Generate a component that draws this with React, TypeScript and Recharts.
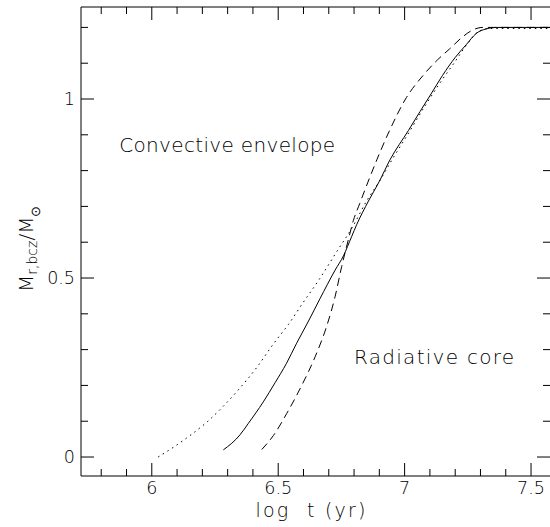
import { LineChart, Line, XAxis, YAxis, ReferenceDot, ReferenceLine } from "recharts";

// evolution of the mass coordinate at the base of the convective zone
const solidTrack = [
  { t: 6.283, m: 0.02 },
  { t: 6.349, m: 0.062 },
  { t: 6.382, m: 0.094 },
  { t: 6.441, m: 0.154 },
  { t: 6.488, m: 0.208 },
  { t: 6.533, m: 0.262 },
  { t: 6.573, m: 0.318 },
  { t: 6.62, m: 0.38 },
  { t: 6.665, m: 0.442 },
  { t: 6.725, m: 0.522 },
  { t: 6.758, m: 0.562 },
  { t: 6.79, m: 0.615 },
  { t: 6.811, m: 0.65 },
  { t: 6.857, m: 0.715 },
  { t: 6.9, m: 0.77 },
  { t: 6.942, m: 0.83 },
  { t: 7.015, m: 0.912 },
  { t: 7.061, m: 0.965 },
  { t: 7.107, m: 1.017 },
  { t: 7.15, m: 1.066 },
  { t: 7.2, m: 1.116 },
  { t: 7.244, m: 1.152 },
  { t: 7.283, m: 1.183 },
  { t: 7.323, m: 1.196 },
  { t: 7.36, m: 1.2 },
  { t: 7.575, m: 1.2 },
];

const dashedTrack = [
  { t: 6.435, m: 0.021 },
  { t: 6.481, m: 0.06 },
  { t: 6.534, m: 0.122 },
  { t: 6.593, m: 0.2 },
  { t: 6.646, m: 0.28 },
  { t: 6.692, m: 0.366 },
  { t: 6.725, m: 0.448 },
  { t: 6.751, m: 0.532 },
  { t: 6.777, m: 0.606 },
  { t: 6.797, m: 0.66 },
  { t: 6.823, m: 0.709 },
  { t: 6.89, m: 0.83 },
  { t: 6.941, m: 0.913 },
  { t: 7.007, m: 1.004 },
  { t: 7.072, m: 1.065 },
  { t: 7.131, m: 1.11 },
  { t: 7.178, m: 1.14 },
  { t: 7.23, m: 1.174 },
  { t: 7.27, m: 1.193 },
  { t: 7.31, m: 1.2 },
  { t: 7.575, m: 1.2 },
];

const dottedTrack = [
  { t: 6.025, m: 0.0 },
  { t: 6.085, m: 0.027 },
  { t: 6.151, m: 0.06 },
  { t: 6.217, m: 0.097 },
  { t: 6.283, m: 0.142 },
  { t: 6.349, m: 0.193 },
  { t: 6.415, m: 0.25 },
  { t: 6.48, m: 0.315 },
  { t: 6.54, m: 0.37 },
  { t: 6.6, m: 0.433 },
  { t: 6.664, m: 0.498 },
  { t: 6.73, m: 0.572 },
  { t: 6.796, m: 0.645 },
  { t: 6.847, m: 0.712 },
  { t: 6.9, m: 0.77 },
  { t: 6.95, m: 0.83 },
  { t: 7.02, m: 0.91 },
  { t: 7.08, m: 0.98 },
  { t: 7.14, m: 1.045 },
  { t: 7.2, m: 1.105 },
  { t: 7.244, m: 1.15 },
  { t: 7.296, m: 1.19 },
  { t: 7.34, m: 1.197 },
  { t: 7.575, m: 1.197 },
];

const xDomain = [5.72, 7.575];
const yDomain = [-0.053, 1.257];
const xTicks = [5.8, 5.9, 6, 6.1, 6.2, 6.3, 6.4, 6.5, 6.6, 6.7, 6.8, 6.9, 7, 7.1, 7.2, 7.3, 7.4, 7.5];
const yTicks = [0, 0.1, 0.2, 0.3, 0.4, 0.5, 0.6, 0.7, 0.8, 0.9, 1, 1.1, 1.2];

const regionLabels = [
  { t: 5.871, m: 0.852, text: "Convective envelope", len: 216 },
  { t: 6.8, m: 0.259, text: "Radiative core", len: 160 },
];

const FONT = "'DejaVu Sans', sans-serif";
const INK = "#000";
const PLOT_W = 469;
const PLOT_H = 469;
const MAJOR = 13;
const MINOR = 7;

const isMajor = (v: number) => Math.abs(v * 2 - Math.round(v * 2)) < 1e-6;

// ticks point inward and are repeated on the opposite edge of the frame
function XTick({ x, y, payload }: any) {
  const major = isMajor(payload.value);
  const len = major ? MAJOR : MINOR;
  return (
    <g>
      <line x1={x} y1={y} x2={x} y2={y - len} stroke="#000" />
      <line x1={x} y1={y - PLOT_H} x2={x} y2={y - PLOT_H + len} stroke="#000" />
      {major && (
        <text x={x} y={y + 18} textAnchor="middle" fontSize={17.5} fontFamily={FONT} fontWeight={200} fill={INK}>
          {payload.value}
        </text>
      )}
    </g>
  );
}

function YTick({ x, y, payload }: any) {
  const major = isMajor(payload.value);
  const len = major ? MAJOR : MINOR;
  return (
    <g>
      <line x1={x} y1={y} x2={x + len} y2={y} stroke="#000" />
      <line x1={x + PLOT_W} y1={y} x2={x + PLOT_W - len} y2={y} stroke="#000" />
      {major && (
        <text x={x - 6} y={y + 6.3} textAnchor="end" fontSize={17.5} fontFamily={FONT} fontWeight={200} fill={INK}>
          {payload.value}
        </text>
      )}
    </g>
  );
}

function XTitle({ viewBox }: any) {
  return (
    <text
      x={viewBox.x + viewBox.width / 2 - 5}
      y={viewBox.y + 41}
      textAnchor="middle"
      fontSize={19}
      fontFamily={FONT}
      fontWeight={200}
      fill={INK}
      textLength={110}
      lengthAdjust="spacing"
      style={{ whiteSpace: "pre" }}
    >
      {"log  t (yr)"}
    </text>
  );
}

function YTitle({ viewBox }: any) {
  const cx = viewBox.x + 33;
  const cy = viewBox.y + 285;
  return (
    <text
      x={cx}
      y={cy}
      transform={`rotate(-90 ${cx} ${cy})`}
      fontSize={20}
      fontFamily={FONT}
      fontWeight={200}
      fill={INK}
    >
      M
      <tspan fontSize={14} dy={4}>r,bcz</tspan>
      <tspan dy={-4}>/M</tspan>
      <tspan fontSize={13} dy={7}>⊙</tspan>
    </text>
  );
}

function RegionText({ viewBox, text, len }: any) {
  return (
    <text
      x={viewBox.x + viewBox.width / 2}
      y={viewBox.y + viewBox.height / 2}
      fontSize={20}
      fontFamily={FONT}
      fontWeight={200}
      fill={INK}
      textLength={len}
      lengthAdjust="spacing"
    >
      {text}
    </text>
  );
}

export default function App() {
  return (
    <div style={{ position: "absolute", left: 0, top: 0, background: "#fff" }}>
      <LineChart width={550} height={527} margin={{ top: 7, right: 0, bottom: 0, left: 0 }}>
        <XAxis
          type="number"
          dataKey="t"
          domain={xDomain}
          ticks={xTicks}
          interval={0}
          allowDataOverflow
          height={51}
          tickSize={0}
          tickMargin={0}
          tickLine={false}
          axisLine={{ stroke: "#000" }}
          tick={<XTick />}
          label={<XTitle />}
        />
        <YAxis
          type="number"
          dataKey="m"
          domain={yDomain}
          ticks={yTicks}
          interval={0}
          allowDataOverflow
          width={81}
          tickSize={0}
          tickMargin={0}
          tickLine={false}
          axisLine={{ stroke: "#000" }}
          tick={<YTick />}
          label={<YTitle />}
        />
        <ReferenceLine y={yDomain[1]} stroke="#000" />
        <Line
          data={solidTrack}
          dataKey="m"
          type="monotone"
          stroke="#000"
          strokeWidth={1}
          dot={false}
          isAnimationActive={false}
        />
        <Line
          data={dashedTrack}
          dataKey="m"
          type="monotone"
          stroke="#000"
          strokeWidth={1}
          strokeDasharray="8 5"
          dot={false}
          isAnimationActive={false}
        />
        <Line
          data={dottedTrack}
          dataKey="m"
          type="monotone"
          stroke="#000"
          strokeWidth={1}
          strokeDasharray="1.5 4"
          dot={false}
          isAnimationActive={false}
        />
        {regionLabels.map((r) => (
          <ReferenceDot
            key={r.text}
            x={r.t}
            y={r.m}
            r={0}
            fill="none"
            stroke="none"
            label={<RegionText text={r.text} len={r.len} />}
          />
        ))}
      </LineChart>
    </div>
  );
}
